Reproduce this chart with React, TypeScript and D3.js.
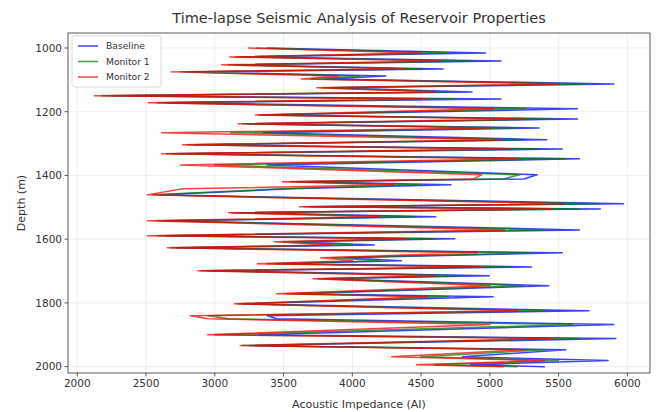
import React from "react";
import * as d3 from "d3";

// Depth samples (m) and acoustic impedance readings for each survey
const depth = [
  1000, 1016, 1028, 1041, 1053, 1066, 1075, 1088, 1097, 1113,
  1125, 1138, 1150, 1160, 1172, 1191, 1210, 1223, 1238, 1251,
  1266, 1288, 1304, 1317, 1332, 1348, 1367, 1398, 1411, 1420,
  1429, 1442, 1461, 1489, 1498, 1505, 1517, 1530, 1542, 1571,
  1589, 1599, 1608, 1618, 1627, 1643, 1658, 1668, 1677, 1687,
  1699, 1715, 1724, 1746, 1771, 1781, 1803, 1825, 1840, 1850,
  1868, 1900, 1912, 1934, 1947, 1969, 1981, 1994, 2000,
];

const baseline = [
  3380, 4968, 3200, 5080, 3150, 4660, 2800, 4243, 3800, 5902,
  3850, 4870, 2250, 5080, 2650, 5637, 3350, 5637, 3230, 5358,
  3352, 5414, 2850, 5526, 2700, 5651, 3380, 5344, 5247, 3600,
  4717, 3550, 2600, 5972, 3700, 5804, 3150, 4606, 2650, 5651,
  2650, 4745, 3600, 4160, 2720, 5526, 3950, 4355, 3450, 5303,
  2950, 4996, 3800, 5428, 3600, 5024, 3200, 5721, 3380, 3450,
  5902, 3324, 5916, 3250, 5553, 4800, 5860, 4860, 5400,
];

const monitor1 = [
  3300, 4700, 3150, 4880, 3100, 4500, 2750, 4050, 3700, 5700,
  3780, 4700, 2180, 4750, 2580, 5260, 3320, 5450, 3200, 5200,
  3115, 5250, 2800, 5350, 2650, 5550, 3000, 5219, 5100, 3550,
  4500, 3480, 2550, 5800, 3650, 5650, 3120, 4450, 2580, 5400,
  2580, 4600, 3500, 4000, 2680, 5300, 3850, 4200, 3380, 5150,
  2900, 4800, 3750, 5250, 3520, 4700, 3170, 5400, 2950, 3100,
  5600, 3000, 5650, 3200, 5400, 4500, 5500, 4600, 5200,
];

const monitor2 = [
  3240, 4500, 3110, 4650, 3050, 4380, 2683, 3900, 3630, 5500,
  3742, 4600, 2125, 4550, 2516, 5024, 3296, 5250, 3170, 5000,
  2613, 5100, 2766, 5150, 2613, 5200, 2752, 4940, 4880, 3491,
  4300, 2766, 2510, 5550, 3616, 5450, 3100, 4200, 2510, 5110,
  2510, 4400, 3435, 3850, 2655, 4910, 3770, 4000, 3310, 4950,
  2878, 4600, 3714, 5000, 3450, 4550, 3143, 5200, 2822, 2950,
  5000, 2948, 5450, 3185, 5250, 4285, 5400, 4466, 5100,
];

const seriesNames = ["Baseline", "Monitor 1", "Monitor 2"];
const seriesColors = ["#0000ff", "#008000", "#ff0000"];
const xTicks = [2000, 2500, 3000, 3500, 4000, 4500, 5000, 5500, 6000];
const yTicks = [1000, 1200, 1400, 1600, 1800, 2000];
const depthLimits = [953, 2020];

const W = 661;
const H = 412;
const M = { left: 68, right: 11, top: 33, bottom: 39 };
const FONT = "DejaVu Sans, sans-serif";

export default function App() {
  const all = [...baseline, ...monitor1, ...monitor2];
  const [xMin, xMax] = d3.extent(all) as [number, number];
  const xPad = (xMax - xMin) * 0.05;

  const x = d3
    .scaleLinear()
    .domain([xMin - xPad, xMax + xPad])
    .range([M.left, W - M.right]);
  const y = d3
    .scaleLinear()
    .domain(depthLimits)
    .range([M.top, H - M.bottom]);

  const series = [baseline, monitor1, monitor2];
  const line = d3
    .line<number>()
    .x((v) => x(v))
    .y((_, i) => y(depth[i]));

  const left = M.left;
  const right = W - M.right;
  const top = M.top;
  const bottom = H - M.bottom;

  return (
    <svg
      width={W}
      height={H}
      style={{ position: "absolute", left: 0, top: 0, background: "#fff" }}
      fontFamily={FONT}
    >
      {/* grid */}
      <g stroke="#e6e6e6" strokeWidth={0.7}>
        {xTicks.map((t) => (
          <line key={"gx" + t} x1={x(t)} x2={x(t)} y1={top} y2={bottom} />
        ))}
        {yTicks.map((t) => (
          <line key={"gy" + t} x1={left} x2={right} y1={y(t)} y2={y(t)} />
        ))}
      </g>

      {/* survey curves */}
      <g fill="none" strokeWidth={1.5} strokeLinejoin="round" strokeOpacity={0.75}>
        {series.map((s, k) => (
          <path key={seriesNames[k]} d={line(s) || ""} stroke={seriesColors[k]} />
        ))}
      </g>

      {/* frame */}
      <rect
        x={left}
        y={top}
        width={right - left}
        height={bottom - top}
        fill="none"
        stroke="#333"
        strokeWidth={0.8}
      />

      {/* x axis */}
      <g fontSize={10.5} fill="#333" textAnchor="middle">
        {xTicks.map((t) => (
          <g key={"xt" + t}>
            <line x1={x(t)} x2={x(t)} y1={bottom} y2={bottom + 3.5} stroke="#333" strokeWidth={0.8} />
            <text x={x(t)} y={bottom + 14}>
              {t}
            </text>
          </g>
        ))}
      </g>
      <text x={(left + right) / 2} y={H - 4} fontSize={11} fill="#333" textAnchor="middle">
        Acoustic Impedance (AI)
      </text>

      {/* y axis */}
      <g fontSize={10.5} fill="#333" textAnchor="end">
        {yTicks.map((t) => (
          <g key={"yt" + t}>
            <line x1={left - 3.5} x2={left} y1={y(t)} y2={y(t)} stroke="#333" strokeWidth={0.8} />
            <text x={left - 6} y={y(t) + 3.8}>
              {t}
            </text>
          </g>
        ))}
      </g>
      <text
        transform={`translate(25,${(top + bottom) / 2}) rotate(-90)`}
        fontSize={11}
        fill="#333"
        textAnchor="middle"
      >
        Depth (m)
      </text>

      {/* title */}
      <text x={(left + right) / 2} y={23} fontSize={14.5} fill="#333" textAnchor="middle">
        Time-lapse Seismic Analysis of Reservoir Properties
      </text>

      {/* legend */}
      <g transform={`translate(${left + 4},${top + 3})`}>
        <rect
          width={89}
          height={51}
          rx={2.5}
          fill="#fff"
          fillOpacity={0.85}
          stroke="#d0d0d0"
          strokeWidth={0.8}
        />
        {seriesNames.map((n, k) => (
          <g key={"lg" + n} transform={`translate(6,${10 + k * 15.5})`}>
            <line x1={0} x2={20} y1={0} y2={0} stroke={seriesColors[k]} strokeWidth={1.5} strokeOpacity={0.75} />
            <text x={28} y={3.3} fontSize={9.2} fill="#333">
              {n}
            </text>
          </g>
        ))}
      </g>
    </svg>
  );
}
